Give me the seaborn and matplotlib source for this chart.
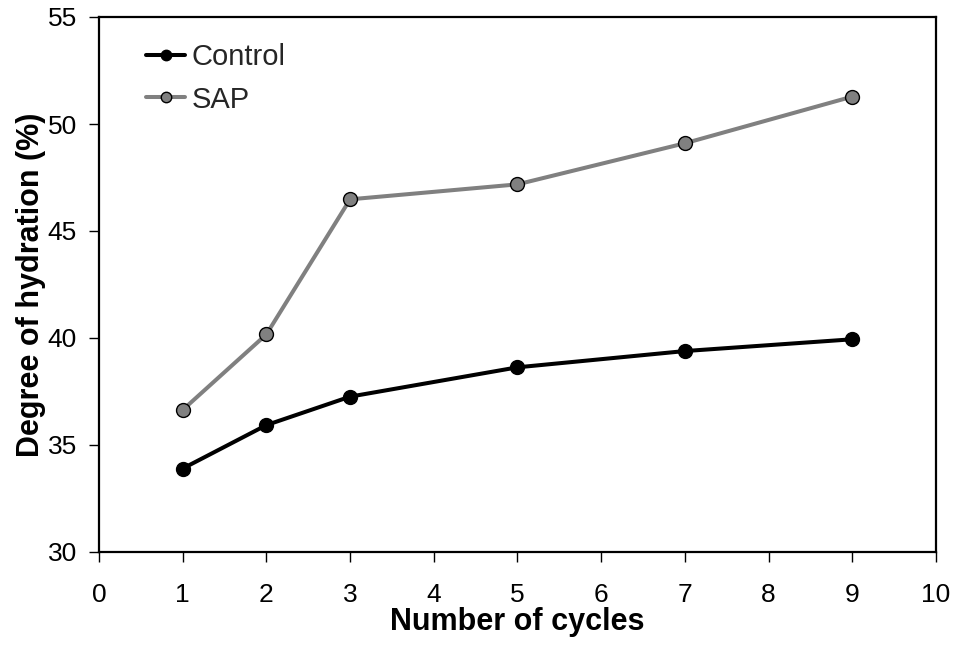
import matplotlib
matplotlib.use("Agg")
import matplotlib.pyplot as plt
import seaborn as sns
import pandas as pd

# Degree of hydration over wetting/drying cycles
cycles = [1, 2, 3, 5, 7, 9]
control = [33.9, 35.93, 37.26, 38.63, 39.39, 39.94]
sap = [36.64, 40.17, 46.48, 47.18, 49.10, 51.28]
series_names = ["Control", "SAP"]
x_ticks = list(range(0, 11))
y_ticks = [30, 35, 40, 45, 50, 55]

sns.set_theme(style="white")
plt.rcParams["font.family"] = ["Liberation Sans", "DejaVu Sans"]

df = pd.DataFrame({
    "cycles": cycles * 2,
    "value": control + sap,
    "series": [series_names[0]] * len(cycles) + [series_names[1]] * len(cycles),
})

fig = plt.figure(figsize=(9.54, 6.45), dpi=100)
ax = fig.add_axes([99 / 954, 1 - 552 / 645, (936 - 99) / 954, (552 - 17) / 645])

colors = {"Control": "black", "SAP": "#808080"}
for name in series_names:
    sub = df[df["series"] == name]
    sns.lineplot(data=sub, x="cycles", y="value", ax=ax, color=colors[name],
                 marker="o", markersize=10, mec="black", mew=1.0,
                 linewidth=2.9, label=name, legend=False)

ax.set_xlim(0, 10)
ax.set_ylim(30, 55)
ax.set_xticks(x_ticks)
ax.set_yticks(y_ticks)
ax.tick_params(axis="x", direction="out", length=7, width=1, color="black",
               labelsize=19, pad=15, bottom=True, labelcolor="black")
ax.tick_params(axis="y", direction="out", length=7, width=1, color="black",
               labelsize=19, pad=9, left=True, labelcolor="black")
for sp in ax.spines.values():
    sp.set_color("black")
    sp.set_linewidth(1.6)

ax.set_xlabel("Number of cycles", fontsize=22, fontweight="bold", labelpad=0, color="black")
ax.set_ylabel("Degree of hydration (%)", fontsize=22, fontweight="bold", labelpad=1, color="black")

ax.legend(loc="upper left", bbox_to_anchor=(146 / 954, 1 - 43 / 645),
          bbox_transform=fig.transFigure, frameon=False, fontsize=21,
          handlelength=1.35, handletextpad=0.2, labelspacing=0.5, borderpad=0,
          borderaxespad=0, markerscale=0.75)

fig.savefig("out.png", dpi=100)
